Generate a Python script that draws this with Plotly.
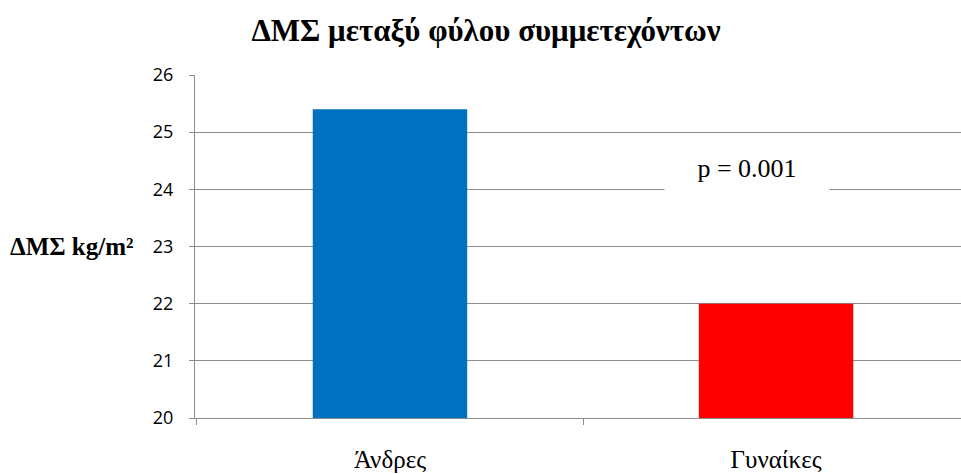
import plotly.graph_objects as go

categories = ["Άνδρες", "Γυναίκες"]
bmi_values = [25.4, 22.0]
bar_colors = ["#0070C0", "#FF0000"]
y_ticks = [20, 21, 22, 23, 24, 25, 26]
p_label = "p = 0.001"

grid_color = "#8C8C8C"
serif = "Liberation Serif, Times New Roman, serif"

fig = go.Figure(
    go.Bar(
        x=categories,
        y=bmi_values,
        marker=dict(color=bar_colors, line=dict(width=0)),
        width=0.4,
        base=0,
    )
)

fig.update_layout(
    width=961,
    height=474,
    margin=dict(l=195, r=0, t=75, b=56),
    paper_bgcolor="white",
    plot_bgcolor="white",
    showlegend=False,
    title=dict(
        text="<b>ΔΜΣ μεταξύ φύλου συμμετεχόντων</b>",
        x=486 / 961,
        xanchor="center",
        y=1 - 30 / 474,
        yanchor="middle",
        font=dict(family=serif, size=31, color="black"),
    ),
)

fig.update_yaxes(
    range=[20, 26],
    tickvals=y_ticks,
    showgrid=True,
    gridcolor=grid_color,
    gridwidth=1,
    showline=True,
    linecolor=grid_color,
    linewidth=1,
    ticks="outside",
    ticklen=5,
    tickcolor=grid_color,
    tickfont=dict(family="Open Sans", size=18, color="black"),
    ticklabelstandoff=12,
    zeroline=False,
)

fig.update_xaxes(
    range=[-0.505, 1.479],
    showline=True,
    linecolor=grid_color,
    linewidth=1,
    ticks="outside",
    tickson="boundaries",
    ticklen=6,
    tickcolor=grid_color,
    tickfont=dict(family=serif, size=25, color="black"),
    ticklabelstandoff=19,
    showgrid=False,
)

# y-axis caption, set horizontally to the left of the tick labels
fig.add_annotation(
    text="<b>ΔΜΣ kg/m²</b>",
    xref="paper",
    yref="y",
    x=-195 / 766 + 8 / 766,
    xanchor="left",
    y=23,
    yanchor="middle",
    showarrow=False,
    font=dict(family=serif, size=25, color="black"),
)

# significance note on a white box that hides the gridline beneath it
fig.add_annotation(
    text=p_label,
    xref="x",
    yref="y",
    x=0.925,
    y=24.37,
    yanchor="middle",
    showarrow=False,
    bgcolor="white",
    width=160,
    height=40,
    borderpad=2,
    font=dict(family=serif, size=26, color="black"),
)

fig.write_html("out.html")
